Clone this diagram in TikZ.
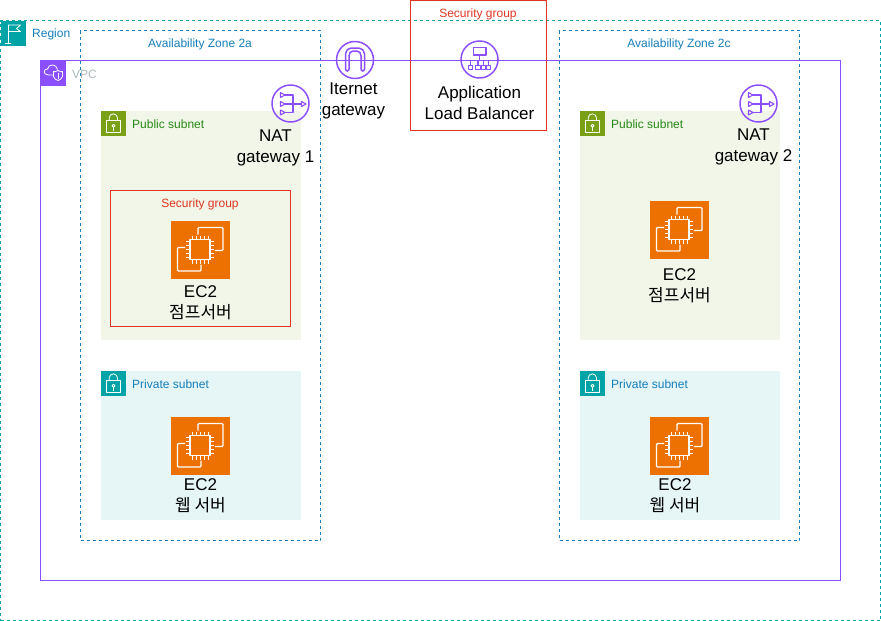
\documentclass[tikz,border=0pt]{standalone}
\usepackage{fontspec}
\setmainfont{Liberation Sans}
\newfontfamily\cjk{Noto Sans CJK KR}

\definecolor{awsteal}{HTML}{00A4A6}
\definecolor{awspurple}{HTML}{8C4FFF}
\definecolor{awsgreen}{HTML}{7AA116}
\definecolor{awsorange}{HTML}{ED7100}
\definecolor{awsblue}{HTML}{147EBA}
\definecolor{awsred}{HTML}{DD3522}
\definecolor{pubtext}{HTML}{248814}
\definecolor{pubfill}{HTML}{F2F6E8}
\definecolor{privfill}{HTML}{E6F6F7}
\definecolor{vpctext}{HTML}{AAB7B8}

\tikzset{
    box/.style 2 args={anchor=north west, inner sep=0pt, outer sep=0pt, minimum width=#1pt, minimum height=#2pt},
    regionbox/.style={draw=awsteal, line width=1pt, dash pattern=on 3pt off 3pt},
    zonebox/.style={draw=awsblue, line width=1pt, dash pattern=on 3pt off 3pt},
    vpcbox/.style={draw=awspurple, line width=1pt},
    sgbox/.style={draw=awsred, line width=1pt},
    small/.style={font=\fontsize{12}{14}\selectfont, inner sep=0pt},
    big/.style={font=\fontsize{17}{20.5}\selectfont, align=center, inner sep=0pt, text=black},
    white line/.style={draw=white, line width=0.8pt, line join=round},
    chip line/.style={draw=white, line width=1.4pt, line join=round},
    purple line/.style={draw=awspurple, line width=1.5pt, line join=round},
    thin purple/.style={draw=awspurple, line width=1.1pt, line join=round},
    pics/lockicon/.style={code={
        \draw[white line] (6,10) rectangle (20,22);
        \draw[white line] (8.7,10) -- (8.7,7.5) arc (180:360:4.15) -- (17,10);
        \draw[white line] (13,15.3) circle (1.5);
        \draw[white line] (13,16.8) -- (13,20);
    }},
    pics/ec2icon/.style={code={
        \draw[chip line] (19,19) rectangle (39,39);
        \foreach \p in {21,25,29,33,37} {
            \draw[white line] (\p,15) -- (\p,19);
            \draw[white line] (\p,39) -- (\p,43);
            \draw[white line] (15,\p) -- (19,\p);
            \draw[white line] (39,\p) -- (43,\p);
        }
        \draw[chip line, rounded corners=1pt] (27,14) -- (27,7) -- (52,7) -- (52,30) -- (44,30);
        \draw[chip line, rounded corners=1pt] (14,27) -- (6.5,27) -- (6.5,50.5) -- (30,50.5) -- (30,44);
    }},
    pics/naticon/.style={code={
        \draw[purple line] (0,0) circle (18.5);
        \foreach \p in {-8.5,0.5,9} {
            \draw[thin purple] (-10,\p-2.5) -- (-5.5,\p) -- (-10,\p+2.5) -- cycle;
        }
        \draw[purple line] (-5.5,-8.5) -- (2.5,-8.5) -- (2.5,9) -- (-5.5,9);
        \draw[purple line] (-5.5,0.5) -- (11,0.5);
        \draw[thin purple] (11,-2) -- (15.5,0.5) -- (11,3) -- cycle;
    }},
}

\begin{document}
\begin{tikzpicture}[x=1pt, y=-1pt]
        \useasboundingbox (0,0) rectangle (881,621);

        % Groups
        \node (region) at (0.5,20.5) [box={880}{600}, regionbox] {};
        \node (azA) at (80.5,30.5) [box={240}{510}, zonebox] {};
        \node (azC) at (559.5,30.5) [box={240}{510}, zonebox] {};
        \node (vpc) at (40.5,60.5) [box={800}{520}, vpcbox] {};
        \node (pubA) at (100.5,110.5) [box={200}{229.5}, fill=pubfill] {};
        \node (pubC) at (579.5,110.5) [box={200}{229.5}, fill=pubfill] {};
        \node (privA) at (100.5,370.5) [box={200}{149.5}, fill=privfill] {};
        \node (privC) at (579.5,370.5) [box={200}{149.5}, fill=privfill] {};
        \node (sgEc) at (110.5,190.5) [box={180}{136}, sgbox] {};
        \node (sgAlb) at (410.5,0.5) [box={136}{130}, sgbox] {};

        % Group tiles
        \node (regionTile) at (0.5,20.5) [box={25.5}{25.5}, fill=awsteal] {};
        \node (vpcTile) at (40.5,60.5) [box={25.5}{25.5}, fill=awspurple] {};
        \node (pubTileA) at (100.5,110.5) [box={25.5}{25.5}, fill=awsgreen] {};
        \node (pubTileC) at (579.5,110.5) [box={25.5}{25.5}, fill=awsgreen] {};
        \node (privTileA) at (100.5,370.5) [box={25.5}{25.5}, fill=awsteal] {};
        \node (privTileC) at (579.5,370.5) [box={25.5}{25.5}, fill=awsteal] {};

        % Tile glyphs
        \begin{scope}[shift={(regionTile.north west)}]
            \draw[white line] (7.5,4) -- (7.5,23);
            \draw[white line] (4.5,23) -- (10.5,23);
            \draw[white line] (7.5,4.5) -- (20,4.5) -- (16,8) -- (20,11) -- (7.5,11);
        \end{scope}
        \begin{scope}[shift={(vpcTile.north west)}]
            \draw[white line] (12,14.5) -- (8,14.5) .. controls (2,14.5) and (3,8) .. (7,8.5)
                .. controls (8,3) and (16,3) .. (17,9);
            \draw[white line] (17.5,10) .. controls (15,11.5) and (14,11.5) .. (13,11)
                -- (13,16) .. controls (13,18) and (16,19.5) .. (17.5,20)
                .. controls (19,19.5) and (22,18) .. (22,16) -- (22,11)
                .. controls (21,11.5) and (20,11.5) .. (17.5,10);
            \draw[white line] (17.5,12) -- (17.5,18);
        \end{scope}
        \pic at (pubTileA.north west) {lockicon};
        \pic at (pubTileC.north west) {lockicon};
        \pic at (privTileA.north west) {lockicon};
        \pic at (privTileC.north west) {lockicon};

        % EC2
        \node (ecPubA) at (171,220.5) [box={59}{58.5}, fill=awsorange] {};
        \node (ecPrivA) at (171,416.5) [box={59}{58.5}, fill=awsorange] {};
        \node (ecPubC) at (650,200.5) [box={59}{58.5}, fill=awsorange] {};
        \node (ecPrivC) at (650,416.5) [box={59}{58.5}, fill=awsorange] {};
        \pic at (ecPubA.north west) {ec2icon};
        \pic at (ecPrivA.north west) {ec2icon};
        \pic at (ecPubC.north west) {ec2icon};
        \pic at (ecPrivC.north west) {ec2icon};

        % Round icons
        \node (natA) at (290.5,103.5) {};
        \node (natC) at (758.5,103.5) {};
        \node (igw) at (355,60) {};
        \node (alb) at (479.5,59.5) {};
        \pic at (natA.center) {naticon};
        \pic at (natC.center) {naticon};
        \begin{scope}[shift={(igw.center)}]
            \draw[purple line] (0,0) circle (18.5);
            \draw[purple line, rounded corners=2pt] (-9.5,11) -- (-9.5,-8) -- (-6,-12) -- (6,-12) -- (9.5,-8) -- (9.5,11) -- (6,11) -- (6,-6) -- (4,-9) -- (-4,-9) -- (-6,-6) -- (-6,11) -- cycle;
        \end{scope}
        \begin{scope}[shift={(alb.center)}]
            \draw[purple line] (0,0) circle (18.5);
            \draw[thin purple] (-6,-12) rectangle (6.5,-4.5);
            \draw[thin purple] (0,-4.5) -- (0,1);
            \draw[thin purple] (-8.8,5.8) -- (-8.8,1) -- (9.2,1) -- (9.2,5.8);
            \draw[thin purple] (-1.5,5.8) -- (-1.5,1);
            \draw[thin purple] (3.8,5.8) -- (3.8,1);
            \draw[thin purple] (-11,5.8) rectangle (-6.7,10);
            \draw[thin purple] (-3.7,5.8) rectangle (0.7,10);
            \draw[thin purple] (1.7,5.8) rectangle (5.9,10);
            \draw[thin purple] (7.2,5.8) rectangle (11.3,10);
        \end{scope}

        % Group labels
        \node (regionText) at (32,34) [small, anchor=west, text=awsblue] {Region};
        \node (vpcText) at (72,74) [small, anchor=west, text=vpctext] {VPC};
        \node (azAText) at (200,44) [small, text=awsblue] {Availability Zone 2a};
        \node (azCText) at (679,44) [small, text=awsblue] {Availability Zone 2c};
        \node (pubAText) at (132,124) [small, anchor=west, text=pubtext] {Public subnet};
        \node (pubCText) at (611,124) [small, anchor=west, text=pubtext] {Public subnet};
        \node (privAText) at (132,384) [small, anchor=west, text=awsblue] {Private subnet};
        \node (privCText) at (611,384) [small, anchor=west, text=awsblue] {Private subnet};
        \node (sgEcText) at (200,204) [small, text=awsred] {Security group};
        \node (sgAlbText) at (478,14) [small, text=awsred] {Security group};

        % Resource labels
        \node (natAText) at (275.5,148) [big] {NAT\\gateway 1};
        \node (natCText) at (753.5,147) [big] {NAT\\gateway 2};
        \node (igwText) at (353.5,101) [big] {Iternet\\gateway};
        \node (albText) at (479.5,103) [big] {Application\\Load Balancer};
        \node (ecPubAText) at (200.5,302.5) [big] {EC2\\{\cjk 점프서버}};
        \node (ecPubCText) at (679.5,285.5) [big] {EC2\\{\cjk 점프서버}};
        \node (ecPrivAText) at (200.5,495.5) [big] {EC2\\{\cjk 웹 서버}};
        \node (ecPrivCText) at (675,495.5) [big] {EC2\\{\cjk 웹 서버}};
    \end{tikzpicture}
\end{document}
